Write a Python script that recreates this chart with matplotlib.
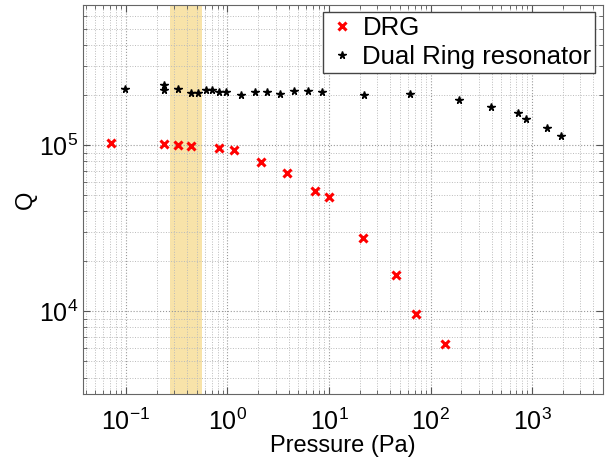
import numpy as np
import matplotlib
matplotlib.use("Agg")
import matplotlib.pyplot as plt

plt.rcParams['font.family'] = ['Liberation Sans', 'DejaVu Sans']
plt.rcParams['mathtext.fontset'] = 'custom'
plt.rcParams['mathtext.rm'] = 'Liberation Sans'

# DRG data
drg_p = [0.071, 0.238, 0.324, 0.44, 0.83, 1.16, 2.12, 3.85, 7.25, 10.0, 21.8, 45.7, 72.5, 138.6]
drg_q = [1.03e5, 1.01e5, 1.0e5, 0.99e5, 0.96e5, 0.93e5, 7.94e4, 6.82e4, 5.32e4, 4.85e4, 2.77e4, 1.65e4, 9.7e3, 6.34e3]

# Dual ring resonator data
ring_p = [0.097, 0.238, 0.238, 0.324, 0.435, 0.516, 0.61, 0.71, 0.824, 0.96, 1.35, 1.85, 2.46,
          3.28, 4.54, 6.14, 8.44, 22.0, 62.3, 189, 398, 735, 875, 1395, 1933]
ring_q = [2.17e5, 2.29e5, 2.14e5, 2.18e5, 2.06e5, 2.07e5, 2.13e5, 2.14e5, 2.1e5, 2.1e5, 2.01e5, 2.1e5, 2.09e5,
          2.03e5, 2.12e5, 2.12e5, 2.1e5, 2.0e5, 2.02e5, 1.87e5, 1.69e5, 1.56e5, 1.44e5, 1.27e5, 1.14e5]

band = (0.27, 0.565)

fig = plt.figure(figsize=(6.05, 4.58), dpi=100)
ax = fig.add_axes([0.1377, 0.139, 0.859, 0.851])

ax.axvspan(band[0], band[1], color='#f8e0a0', alpha=0.9, lw=0, zorder=0)
ax.plot(drg_p, drg_q, 'x', color='#ff0000', ms=6, mew=2.2, label='DRG', zorder=3)
ax.plot(ring_p, ring_q, '*', color='black', ms=5.5, label='Dual Ring resonator', zorder=3)

ax.set_xscale('log')
ax.set_yscale('log')
ax.set_xlim(0.038, 5000)
ax.set_ylim(3170, 7e5)

ax.grid(True, which='major', ls=':', color='#999999', lw=0.8)
ax.grid(True, which='minor', ls=':', color='#bbbbbb', lw=0.7)
ax.tick_params(which='both', direction='in', top=True, right=True, labelsize=18, colors='#555555',
               labelcolor='black')
ax.tick_params(which='major', length=5)
ax.tick_params(which='minor', length=3)
ax.tick_params(axis='x', pad=10)
for s in ax.spines.values():
    s.set_color('#666666')

ax.set_xlabel('Pressure (Pa)', fontsize=17, labelpad=0)
ax.set_ylabel('Q', fontsize=17)
ax.yaxis.set_label_coords(-0.09, 0.5)

leg = ax.legend(loc='upper right', fontsize=18.5, handletextpad=0.2, borderpad=0.15, labelspacing=0.2,
                handlelength=1.2, fancybox=False, framealpha=1, borderaxespad=0.3)
leg.get_frame().set_edgecolor('#444444')

fig.savefig('out.png', dpi=100)
